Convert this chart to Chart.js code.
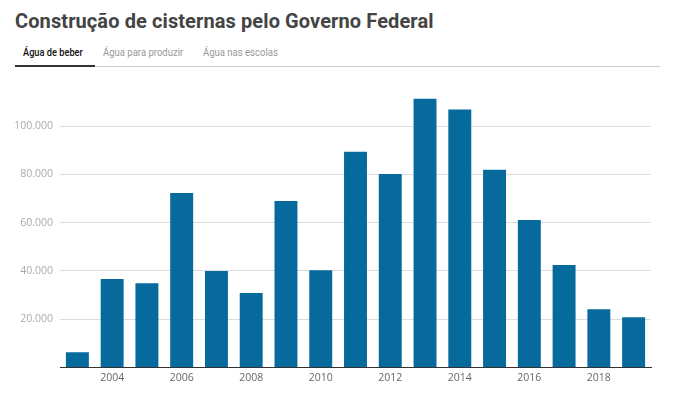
<!DOCTYPE html>
<html>
<head>
<meta charset="utf-8">
<script src="https://cdn.jsdelivr.net/npm/chart.js@4"></script>
<style>
	body { margin: 0; background: #fff; width: 686px; height: 399px; overflow: hidden; position: relative; }
	h1 { position: absolute; left: 15px; top: 9px; margin: 0; font: 700 20px Roboto, sans-serif; color: #444; white-space: nowrap; letter-spacing: 0.1px; }
	.tabs { position: absolute; left: 15px; top: 44px; width: 645px; height: 22px; border-bottom: 1px solid #ccc; font: 11px Roboto, sans-serif; }
	.tabs span { position: absolute; top: 0; color: #999; line-height: 18px; white-space: nowrap; transform: scaleX(0.865); transform-origin: left center; }
	.tabs span.on { color: #111; font-weight: 500; transform: scaleX(0.84); }
	.tabs .bar { position: absolute; left: 0; width: 80px; bottom: -1px; height: 2px; background: #333; }
	#wrap { position: absolute; left: 0; top: 70px; width: 686px; height: 329px; }
</style>
</head>
<body>
<h1>Construção de cisternas pelo Governo Federal</h1>
<div class="tabs">
	<span class="on" style="left: 8px">Água de beber</span>
	<span style="left: 88px">Água para produzir</span>
	<span style="left: 188px">Água nas escolas</span>
	<div class="bar"></div>
</div>
<div id="wrap"><canvas id="c"></canvas></div>
<script>
const years = ['2003', '2004', '2005', '2006', '2007', '2008', '2009', '2010', '2011',
	'2012', '2013', '2014', '2015', '2016', '2017', '2018', '2019']
const cisternas = [6300, 36600, 34900, 72300, 40000, 30800, 69000, 40300, 89400,
	80200, 111400, 106900, 81900, 61100, 42400, 24100, 20800]
const yTicks = [0, 20000, 40000, 60000, 80000, 100000]

const ctx = document.getElementById('c').getContext('2d')
const chart = new Chart(ctx, {
	type: 'bar',
	data: {
		labels: years,
		datasets: [
			{
				data: cisternas,
				backgroundColor: '#066a9c',
				barPercentage: 0.66,
				categoryPercentage: 1,
			},
		],
	},
	options: {
		responsive: true,
		maintainAspectRatio: false,
		animation: false,
		layout: { padding: { top: 20, right: 35, bottom: 11, left: 0 } },
		plugins: {
			legend: { display: false },
			tooltip: { enabled: false },
		},
		scales: {
			x: {
				grid: { display: false, drawTicks: false },
				border: { color: '#333', width: 1 },
				ticks: {
					autoSkip: false,
					maxRotation: 0,
					padding: 4,
					color: '#666',
					font: { family: 'Open Sans', size: 10.5 },
					callback: function (v, i) {
						const y = years[i]
						return Number(y) % 2 === 0 ? y : ''
					},
				},
			},
			y: {
				min: 0,
				max: 115000,
				afterBuildTicks: (s) => {
					s.ticks = yTicks.map((v) => ({ value: v }))
				},
				afterFit: (s) => {
					s.width = 60
				},
				border: { display: false },
				grid: { color: (c) => (c.tick && c.tick.value === 0 ? 'rgba(0,0,0,0)' : '#ddd'), drawTicks: false },
				ticks: {
					padding: 7,
					color: '#aaa',
					font: { family: 'Open Sans', size: 10.5 },
					callback: (v) => (v === 0 ? '' : v.toLocaleString('pt-BR')),
				},
			},
		},
	},
})
</script>
</body>
</html>
